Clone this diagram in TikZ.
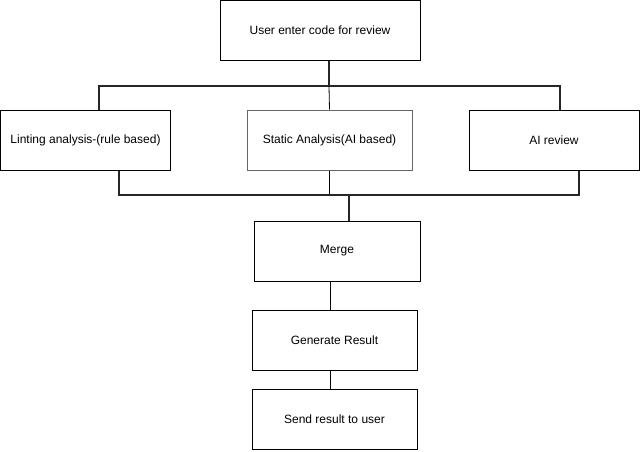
\documentclass[tikz,border=0pt]{standalone}
\usepackage{fontspec}
\setmainfont{Liberation Sans}
\usetikzlibrary{positioning}

\tikzset{
	stepbox/.style={draw,line width=.75pt,minimum width=#1*.75pt,minimum height=45pt,inner sep=0pt,font=\fontsize{9}{11}\selectfont},
	stepbox/.default=166,
	bus/.style={line width=1.6pt,draw=black!85},
	wire/.style={line width=.6pt}
}

\begin{document}
\begin{tikzpicture}[x=.75pt,y=-.75pt]
	\useasboundingbox (0,0) rectangle (640,451);
	% top
	\node[stepbox=200] (user) at (320,30.5) {User enter code for review};
	% three checks
	\node[stepbox=170] (lint) at (85.5,140) {Linting analysis-(rule based)};
	\node[stepbox=165,draw=black!60] (static) at (329.5,140) {Static Analysis(AI based)};
	\node[stepbox=170] (ai) at (554,140) {AI review};
	% bottom chain
	\node[stepbox=166] (merge) at (337,251) {Merge};
	\node[stepbox=165] (result) at (334.5,340) {Generate Result};
	\node[stepbox=165] (send) at (334.5,419.5) {Send result to user};
	% fan out / fan in
	\coordinate (split) at (329,86);
	\coordinate (fanL) at (99,86);
	\coordinate (fanR) at (560,86);
	\coordinate (join) at (349,195);
	\coordinate (joinL) at (119,195);
	\coordinate (joinR) at (579,195);
	\coordinate (chain) at (330,300);
	\draw[bus] (user.south -| split) -- (split);
	\draw[bus] (lint.north -| fanL) -- (fanL) -- (fanR) -- (ai.north -| fanR);
	\draw[wire] (split) -- (static.north);
	\draw[wire] (static.south) -- (static.south |- join);
	\draw[bus] (lint.south -| joinL) -- (joinL) -- (joinR) -- (ai.south -| joinR);
	\draw[bus] (join) -- (merge.north -| join);
	\draw[wire] (merge.south -| chain) -- (result.north -| chain);
	\draw[wire] (result.south -| chain) -- (send.north -| chain);
\end{tikzpicture}
\end{document}
